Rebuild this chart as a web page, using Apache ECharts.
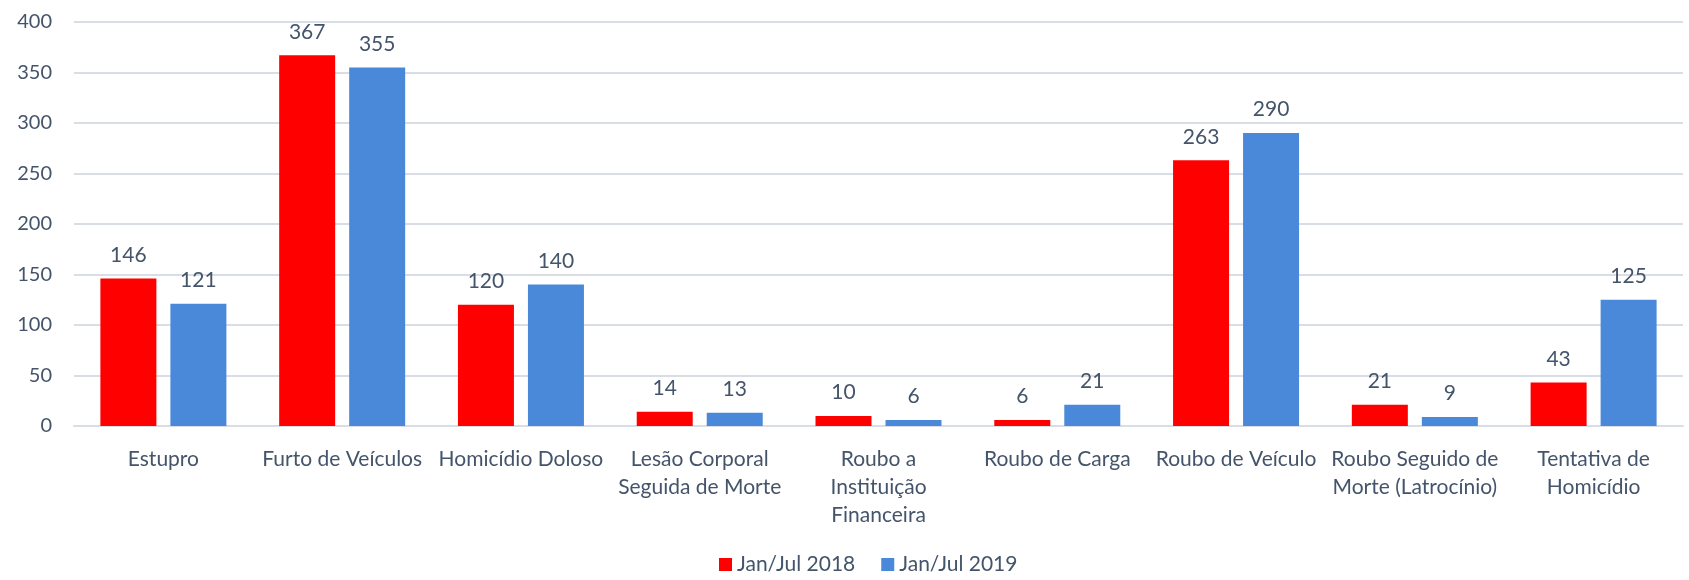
<!DOCTYPE html>
<html>
<head>
<meta charset="utf-8">
<script src="https://cdn.jsdelivr.net/npm/echarts@6/dist/echarts.min.js"></script>
<style>
  html, body { margin: 0; padding: 0; background: #fff; }
  #main { width: 1689px; height: 580px; }
</style>
</head>
<body>
<div id="main"></div>
<script>
// categorias (quebras de linha como no original)
let categories = [
    'Estupro',
    'Furto de Veículos',
    'Homicídio Doloso',
    'Lesão Corporal\nSeguida de Morte',
    'Roubo a\nInstituição\nFinanceira',
    'Roubo de Carga',
    'Roubo de Veículo',
    'Roubo Seguido de\nMorte (Latrocínio)',
    'Tentativa de\nHomicídio'
];
let values2018 = [146, 367, 120, 14, 10, 6, 263, 21, 43];
let values2019 = [121, 355, 140, 13, 6, 21, 290, 9, 125];
let seriesNames = ['Jan/Jul 2018', 'Jan/Jul 2019'];

let textColor = '#44546A';
let fontFamily = 'Lato, "Open Sans", sans-serif';

let chart = echarts.init(document.getElementById('main'));

let labelStyle = {
    show: true,
    position: 'top',
    distance: 13,
    color: textColor,
    fontSize: 21,
    fontFamily: fontFamily
};

chart.setOption({
    animation: false,
    textStyle: { fontFamily: fontFamily },
    grid: {
        left: 74,
        right: 6,
        top: 22,
        bottom: 154
    },
    legend: {
        bottom: 0,
        left: 714,
        itemWidth: 13,
        itemHeight: 13,
        itemGap: 26,
        icon: 'rect',
        textStyle: { color: textColor, fontSize: 21, fontFamily: fontFamily },
        data: seriesNames
    },
    xAxis: {
        type: 'category',
        data: categories,
        axisTick: { show: false },
        axisLine: { lineStyle: { color: '#D9DEE6', width: 2 } },
        axisLabel: {
            interval: 0,
            margin: 19,
            color: textColor,
            fontSize: 21,
            lineHeight: 28,
            fontFamily: fontFamily
        }
    },
    yAxis: {
        type: 'value',
        min: 0,
        max: 400,
        interval: 50,
        axisLine: { show: false },
        axisTick: { show: false },
        splitLine: { lineStyle: { color: '#D9DEE6', width: 2 } },
        axisLabel: {
            margin: 22,
            color: textColor,
            fontSize: 20,
            fontFamily: fontFamily
        }
    },
    series: [
        {
            name: seriesNames[0],
            type: 'bar',
            data: values2018,
            barWidth: 56,
            barGap: '25%',
            itemStyle: { color: '#FF0000' },
            label: labelStyle
        },
        {
            name: seriesNames[1],
            type: 'bar',
            data: values2019,
            barWidth: 56,
            itemStyle: { color: '#4A89D9' },
            label: labelStyle
        }
    ]
});
</script>
</body>
</html>
